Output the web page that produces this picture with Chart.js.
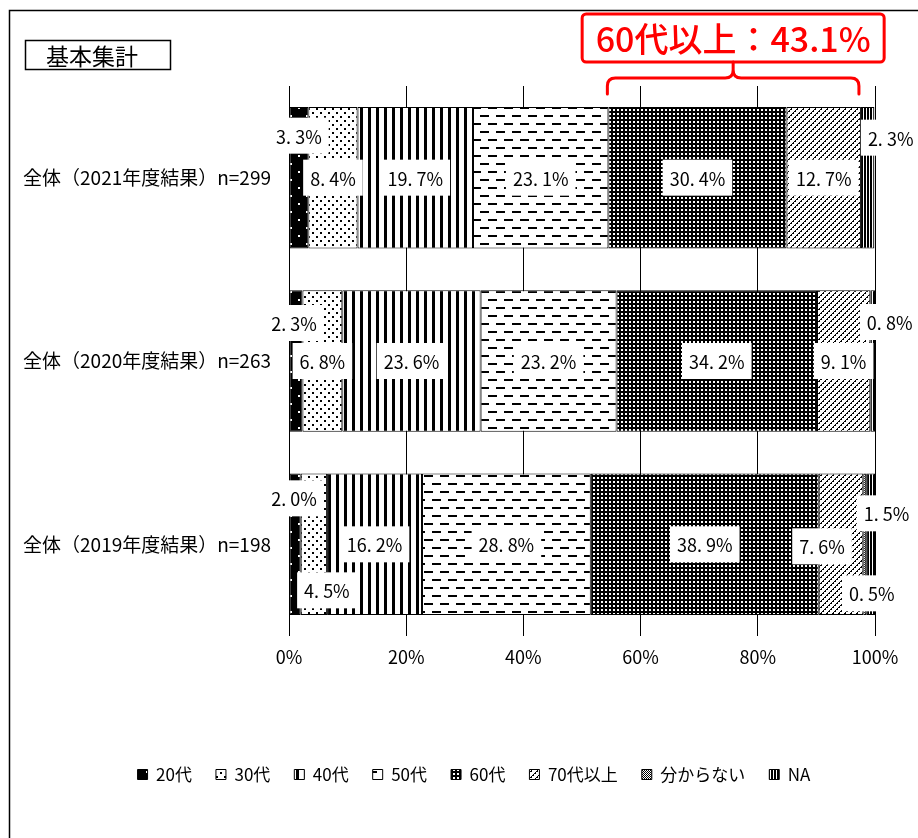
<!DOCTYPE html>
<html lang="ja">
<head>
<meta charset="utf-8">
<title>基本集計</title>
<script src="https://cdn.jsdelivr.net/npm/chart.js@4.4.1/dist/chart.umd.min.js"></script>
<style>
  html, body { margin: 0; padding: 0; background: #fff; }
  #wrap { width: 918px; height: 838px; position: relative; }
</style>
</head>
<body>
<div id="wrap"><canvas id="chart"></canvas></div>
<script>
const categories = ['全体（2021年度結果）n=299', '全体（2020年度結果）n=263', '全体（2019年度結果）n=198'];
const seriesNames = ['20代', '30代', '40代', '50代', '60代', '70代以上', '分からない', 'NA'];
const age20s = [3.3, 2.3, 2.0];
const age30s = [8.4, 6.8, 4.5];
const age40s = [19.7, 23.6, 16.2];
const age50s = [23.1, 23.2, 28.8];
const age60s = [30.4, 34.2, 38.9];
const age70s = [12.7, 9.1, 7.6];
const unknown = [0, 0, 0.5];
const noAnswer = [2.3, 0.8, 1.5];
const xTicks = [0, 20, 40, 60, 80, 100];

const seriesValues = [age20s, age30s, age40s, age50s, age60s, age70s, unknown, noAnswer];
const FONT = '"Noto Sans CJK JP", sans-serif';

Chart.defaults.font.family = FONT;
Chart.defaults.color = '#000';

// small black & white tiles, like the hatch fills of the original
function tile(w, h, bg, paint) {
  const c = document.createElement('canvas');
  c.width = w;
  c.height = h;
  const g = c.getContext('2d');
  g.fillStyle = bg;
  g.fillRect(0, 0, w, h);
  g.fillStyle = bg === '#000' ? '#fff' : '#000';
  paint(g);
  return g.createPattern(c, 'repeat');
}

const patterns = [
  tile(16, 16, '#000', g => { g.fillRect(2, 3, 2, 2); g.fillRect(10, 11, 2, 2); }),
  tile(8, 8, '#fff', g => { g.fillRect(0, 0, 2, 2); g.fillRect(4, 4, 2, 2); }),
  tile(8, 1, '#fff', g => { g.fillRect(0, 0, 3, 1); }),
  tile(16, 16, '#fff', g => { g.fillRect(0, 3, 9, 2); g.fillRect(8, 11, 9, 2); g.fillRect(-8, 11, 9, 2); }),
  tile(4, 4, '#000', g => { g.fillRect(1, 1, 2, 2); }),
  tile(6, 6, '#fff', g => {
    for (let y = 0; y < 6; y++) {
      const x = 5 - y;
      g.fillRect(x, y, y % 2 ? 2 : 1, 1);
      if (y % 2 && x + 1 >= 6) g.fillRect(0, y, 1, 1);
    }
  }),
  tile(2, 2, '#fff', g => { g.fillRect(0, 0, 1, 1); g.fillRect(1, 1, 1, 1); }),
  tile(3, 1, '#fff', g => { g.fillRect(0, 0, 2, 1); })
];

const datasets = seriesNames.map((name, i) => ({
  label: name,
  data: seriesValues[i],
  backgroundColor: patterns[i],
  borderColor: '#000',
  borderWidth: 1,
  borderSkipped: false,
  barPercentage: 0.772,
  categoryPercentage: 1
}));

// nudges for the small segments, key = dataset-category
const labelShift = {
  '0-0': [0, -42], '7-0': [23, -40],
  '0-1': [-2, -38], '7-1': [17, -39],
  '0-2': [-1, -46], '1-2': [13, 46], '5-2': [-19, 2], '6-2': [7, 49], '7-2': [16, -31]
};

const valueLabels = {
  id: 'valueLabels',
  afterDatasetsDraw(chart) {
    const ctx = chart.ctx;
    ctx.save();
    ctx.font = '18px ' + FONT;
    ctx.textAlign = 'center';
    ctx.textBaseline = 'middle';
    chart.data.datasets.forEach((ds, i) => {
      chart.getDatasetMeta(i).data.forEach((bar, j) => {
        const v = ds.data[j];
        if (!v) return;
        const s = labelShift[i + '-' + j] || [0, 0];
        const x = (bar.x + bar.base) / 2 + s[0];
        const y = bar.y + s[1];
        const text = v.toFixed(1).replace('.', '. ') + '%';
        const w = ctx.measureText(text).width + 14;
        ctx.fillStyle = '#fff';
        ctx.fillRect(x - w / 2, y - 18, w, 36);
        ctx.fillStyle = '#000';
        ctx.fillText(text, x, y + 1);
      });
    });
    ctx.restore();
  }
};

const decorations = {
  id: 'decorations',
  beforeDraw(chart) {
    // centre the legend under the plot block like the original
    chart.legend.left = 73;
  },
  afterDraw(chart) {
    const ctx = chart.ctx;
    const xs = chart.scales.x;
    ctx.save();
    ctx.strokeStyle = '#000';
    ctx.lineWidth = 1.5;
    ctx.beginPath();
    ctx.moveTo(9.5, 838);
    ctx.lineTo(9.5, 10.5);
    ctx.lineTo(918, 10.5);
    ctx.stroke();

    ctx.strokeRect(25.5, 40.5, 145, 29);
    ctx.fillStyle = '#000';
    ctx.font = '23px ' + FONT;
    ctx.textAlign = 'center';
    ctx.textBaseline = 'middle';
    ctx.fillText('基本集計', 92, 56);

    // bracket over 60代 + 70代以上 of the first row
    const start = age20s[0] + age30s[0] + age40s[0] + age50s[0];
    const end = start + age60s[0] + age70s[0];
    const x0 = xs.getPixelForValue(start) - 1;
    const x1 = xs.getPixelForValue(end) - 2;
    const xm = (x0 + x1) / 2;
    const yb = 94, yh = 78, yt = 62, r = 8;
    ctx.strokeStyle = '#ff0000';
    ctx.lineWidth = 3;
    ctx.lineCap = 'round';
    ctx.beginPath();
    ctx.moveTo(x0, yb);
    ctx.lineTo(x0, yh + r);
    ctx.quadraticCurveTo(x0, yh, x0 + r, yh);
    ctx.lineTo(xm - r, yh);
    ctx.quadraticCurveTo(xm, yh, xm, yh - r);
    ctx.lineTo(xm, yt);
    ctx.moveTo(xm, yh - r);
    ctx.quadraticCurveTo(xm, yh, xm + r, yh);
    ctx.lineTo(x1 - r, yh);
    ctx.quadraticCurveTo(x1, yh, x1, yh + r);
    ctx.lineTo(x1, yb);
    ctx.stroke();

    ctx.beginPath();
    ctx.roundRect(xm - 151, 14, 302, 48, 4);
    ctx.stroke();
    ctx.fillStyle = '#ff0000';
    ctx.font = '500 34px ' + FONT;
    ctx.fillText('60代以上：' + (age60s[0] + age70s[0]).toFixed(1) + '%', xm, 39);
    ctx.restore();
  }
};

new Chart(document.getElementById('chart'), {
  type: 'bar',
  data: { labels: categories, datasets: datasets },
  options: {
    indexAxis: 'y',
    responsive: true,
    maintainAspectRatio: false,
    animation: false,
    layout: { padding: { left: 0, right: 43, top: 86, bottom: 45 } },
    plugins: {
      legend: {
        position: 'bottom',
        labels: { boxWidth: 10, boxHeight: 10, padding: 24, color: '#000', font: { size: 17 } }
      },
      tooltip: { enabled: false }
    },
    scales: {
      x: {
        stacked: true,
        min: 0,
        max: 100,
        afterBuildTicks: s => { s.ticks = xTicks.map(v => ({ value: v })); },
        ticks: { callback: v => v + '%', padding: 10, color: '#000', font: { size: 18 } },
        grid: { color: '#000', lineWidth: 1, drawTicks: false },
        border: { display: false },
        afterFit: s => { s.height = 106; }
      },
      y: {
        stacked: true,
        grid: { display: false, drawTicks: false },
        border: { display: false },
        ticks: { padding: 18, color: '#000', font: { size: 19 } },
        afterFit: s => { s.width = 289; }
      }
    }
  },
  plugins: [valueLabels, decorations]
});
</script>
</body>
</html>
